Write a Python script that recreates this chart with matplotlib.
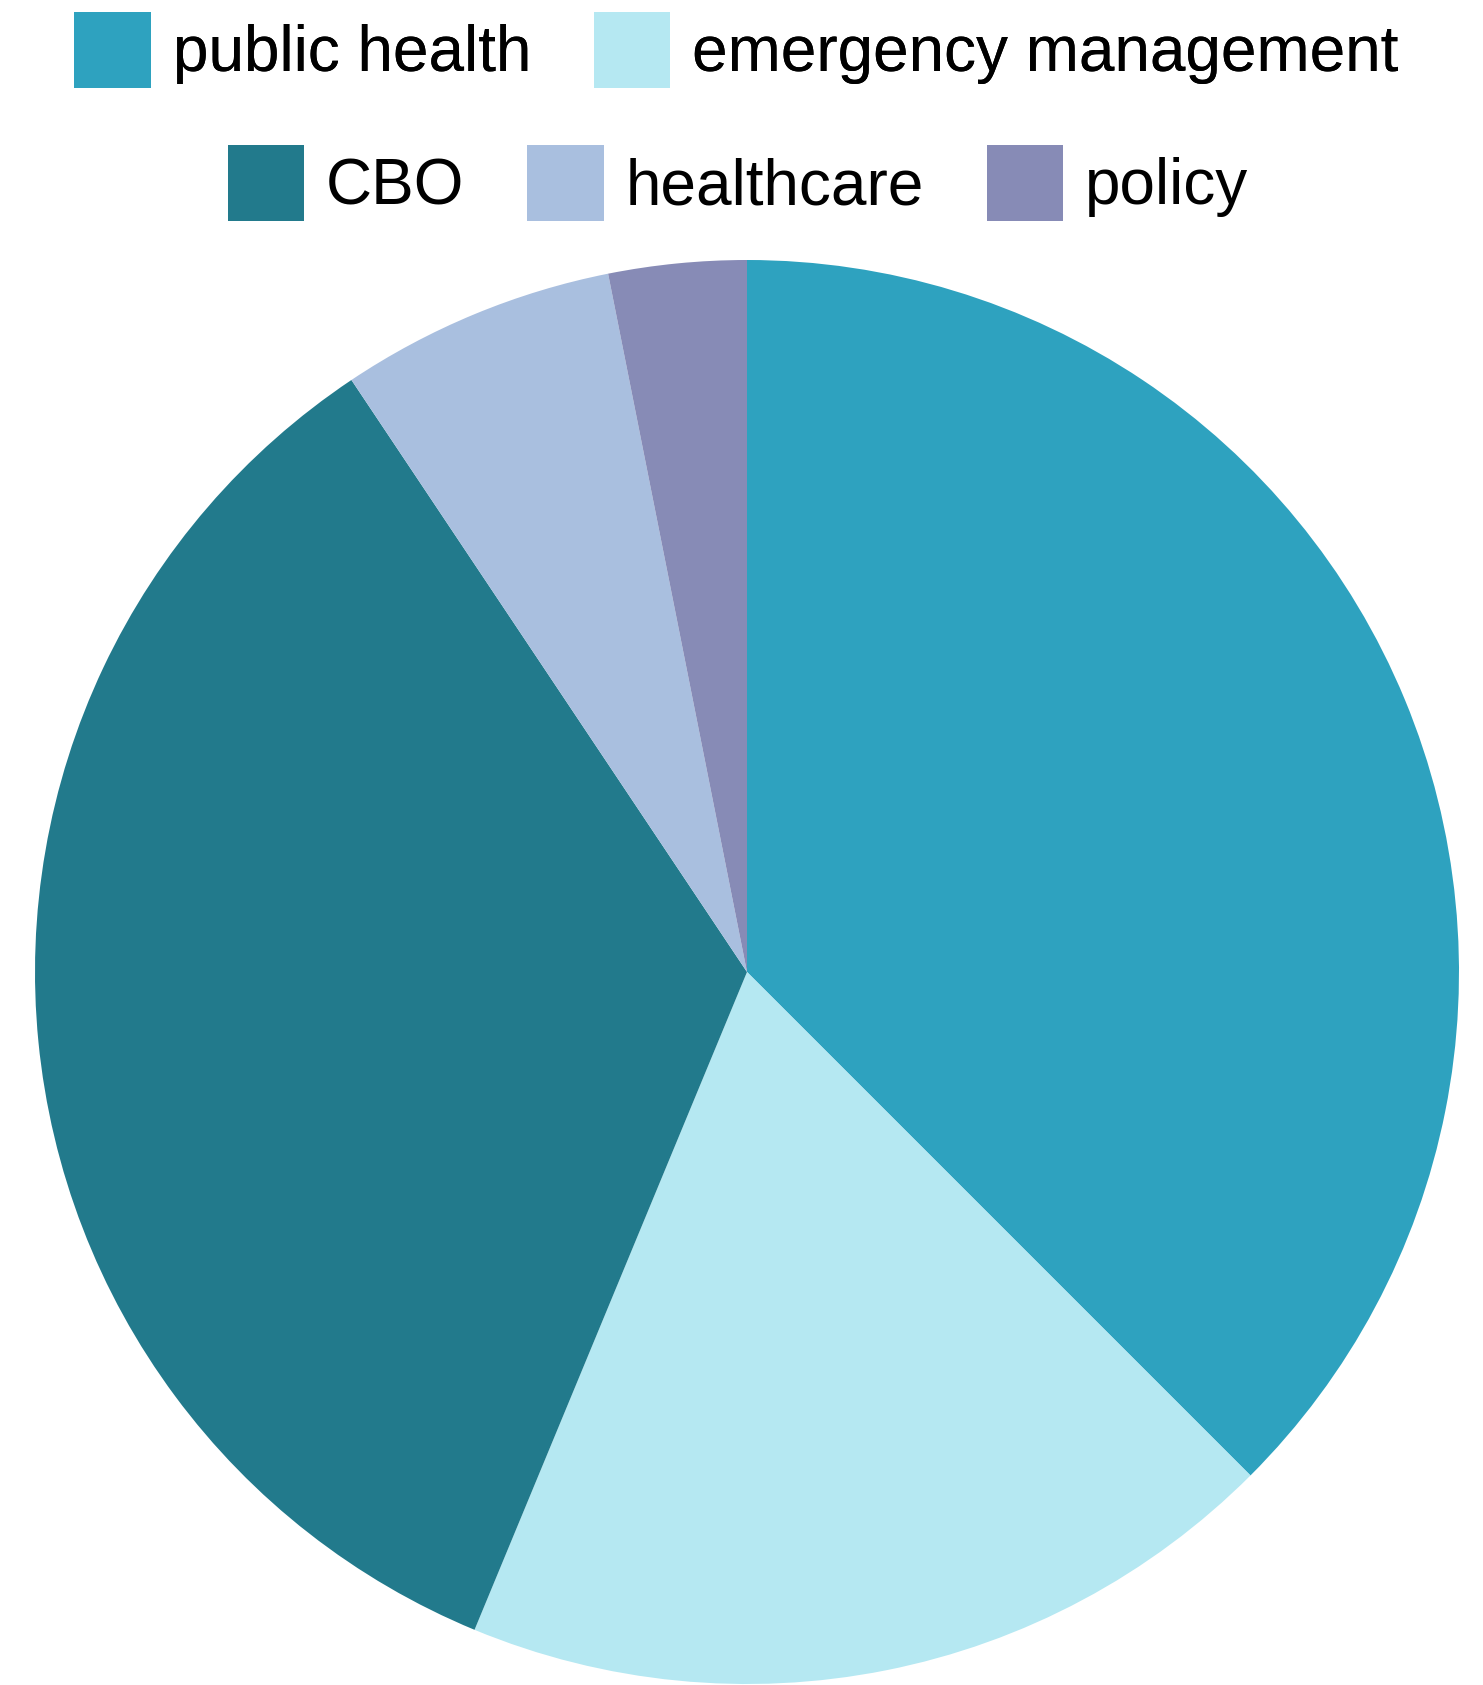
import matplotlib
matplotlib.use("Agg")
import matplotlib.pyplot as plt
from matplotlib.patches import Patch

categories = ["public health", "emergency management", "CBO", "healthcare", "policy"]
values = [12, 6, 11, 2, 1]
colors = ["#2EA2BF", "#B5E8F2", "#227A8C", "#A9BFDF", "#878BB6"]

plt.rcParams['font.family'] = ['Liberation Sans', 'DejaVu Sans']

W, H = 1483, 1685
fig = plt.figure(figsize=(W / 100, H / 100), dpi=100)

cx, cy, r = 747, 972, 712
ax = fig.add_axes([(cx - r) / W, (H - cy - r) / H, 2 * r / W, 2 * r / H])
wedges, _ = ax.pie(values, colors=colors, startangle=90, counterclock=False,
                   radius=1, wedgeprops=dict(linewidth=0))
ax.set_xlim(-1, 1)
ax.set_ylim(-1, 1)
ax.set_aspect('equal')
ax.axis('off')

handles = [Patch(facecolor=c, edgecolor='none') for c in colors]
common = dict(loc='center', frameon=False, fontsize=46, handlelength=1.2,
              handleheight=1.43, handletextpad=0.34, columnspacing=0.98,
              borderpad=0, borderaxespad=0)
leg1 = fig.legend(handles[:2], categories[:2], ncol=2,
                  bbox_to_anchor=(736.5 / W, 1 - 50 / H), **common)
fig.add_artist(leg1)
leg2 = fig.legend(handles[2:], categories[2:], ncol=3,
                  bbox_to_anchor=(738 / W, 1 - 183 / H), **common)

fig.savefig("out.png", dpi=100)
